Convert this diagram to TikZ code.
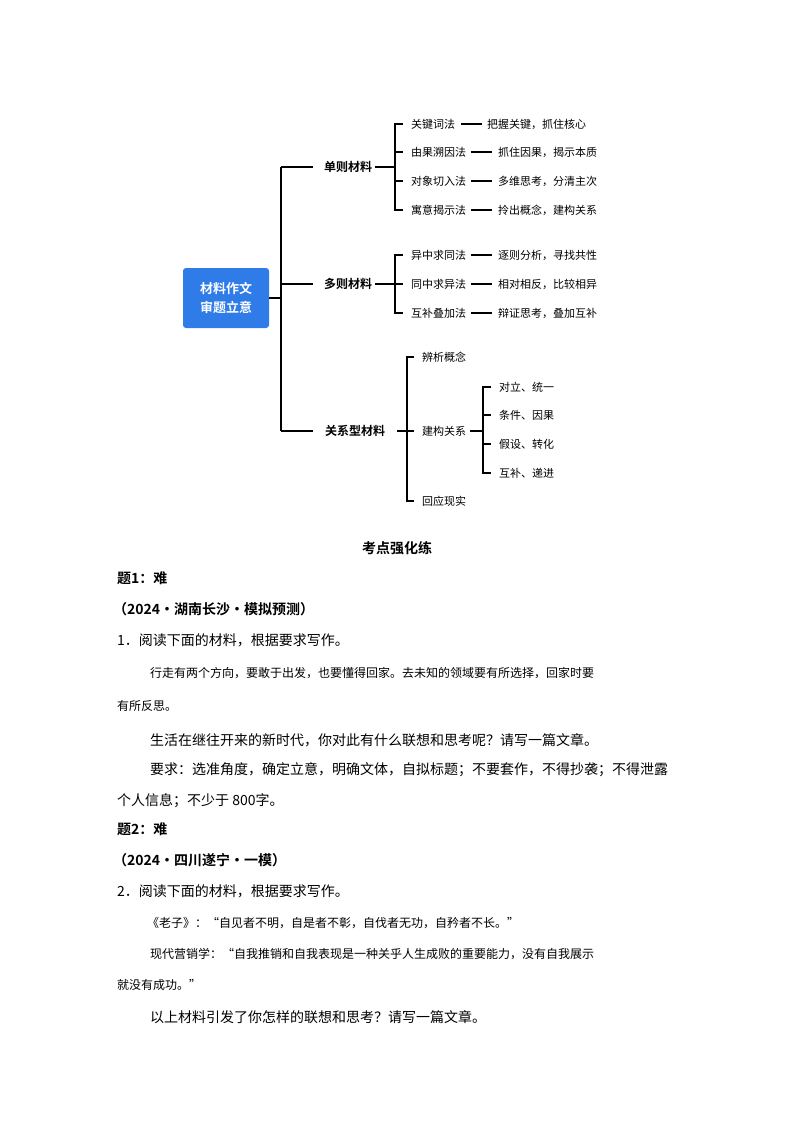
\documentclass[tikz,border=0pt]{standalone}
\usepackage{fontspec}
\setmainfont{Noto Sans CJK SC}
\newfontfamily\cjk{Noto Sans CJK SC}
\newfontfamily\cjkb{Noto Sans CJK SC Bold}
\definecolor{rootblue}{HTML}{2F7BE8}
\begin{document}
\begin{tikzpicture}[x=1pt,y=-1pt,
  ln/.style={line width=1.2pt,black},
  mm/.style={font=\fontsize{11}{12}\selectfont,anchor=west,inner sep=0pt},
  mb/.style={font=\fontsize{12}{13}\cjkb\selectfont,inner sep=0pt},
  body/.style={font=\fontsize{14}{15}\selectfont,anchor=west,inner sep=0pt},
  mat/.style={font=\fontsize{12}{13}\selectfont,anchor=west,inner sep=0pt},
  hd/.style={font=\fontsize{14}{15}\cjkb\selectfont,anchor=west,inner sep=0pt}]
\useasboundingbox (0,0) rectangle (794,1123);
\fill[white] (0,0) rectangle (794,1123);
% root
\node[fill=rootblue,rounded corners=3pt,minimum width=86pt,minimum height=60pt,text=white,align=center,font=\fontsize{13}{19}\cjkb\selectfont] (root) at (226,298) {材料作文\\审题立意};
\coordinate (v1t) at (281,167); \coordinate (v1b) at (281,431);
\draw[ln] (root.east) -- (281,298);
\draw[ln] (v1t) -- (v1b);
\node[mb] (s) at (348,167) {单则材料};
\node[mb] (m) at (348,284) {多则材料};
\node[mb] (r) at (355,431) {关系型材料};
\draw[ln] (v1t) -- (313,167);
\draw[ln] (281,284) -- (313,284);
\draw[ln] (v1b) -- (313,431);
% single
\draw[ln] (s.east)++(3,0) -- (395,167);
\draw[ln] (403,124) -- (395,124) -- (395,210) -- (403,210);
\draw[ln] (395,152) -- (403,152); \draw[ln] (395,181) -- (403,181);
\node[mm] (s1) at (411,124) {关键词法};
\node[mm] (s2) at (411,152) {由果溯因法};
\node[mm] (s3) at (411,181) {对象切入法};
\node[mm] (s4) at (411,210) {寓意揭示法};
\node[mm] (t1) at (487,124) {把握关键，抓住核心};
\node[mm] (t2) at (498,152) {抓住因果，揭示本质};
\node[mm] (t3) at (498,181) {多维思考，分清主次};
\node[mm] (t4) at (498,210) {拎出概念，建构关系};
\draw[ln] (461,124) -- (482,124);
\foreach \y in {152,181,210} \draw[ln] (471,\y) -- (492,\y);
% multi
\draw[ln] (m.east)++(3,0) -- (395,284);
\draw[ln] (403,255) -- (395,255) -- (395,313) -- (403,313);
\draw[ln] (395,284) -- (403,284);
\node[mm] (m1) at (411,255) {异中求同法};
\node[mm] (m2) at (411,284) {同中求异法};
\node[mm] (m3) at (411,313) {互补叠加法};
\node[mm] (u1) at (498,255) {逐则分析，寻找共性};
\node[mm] (u2) at (498,284) {相对相反，比较相异};
\node[mm] (u3) at (498,313) {辩证思考，叠加互补};
\foreach \y in {255,284,313} \draw[ln] (471,\y) -- (492,\y);
% relation
\draw[ln] (397,431) -- (407,431);
\draw[ln] (414,357) -- (407,357) -- (407,501) -- (414,501);
\draw[ln] (407,431) -- (414,431);
\node[mm] (r1) at (422,357) {辨析概念};
\node[mm] (r2) at (422,431) {建构关系};
\node[mm] (r3) at (422,501) {回应现实};
\draw[ln] (r2.east)++(4,0) -- (483,431);
\draw[ln] (491,387) -- (483,387) -- (483,473) -- (491,473);
\draw[ln] (483,415) -- (491,415); \draw[ln] (483,444) -- (491,444);
\node[mm] (q1) at (499,387) {对立、统一};
\node[mm] (q2) at (499,415) {条件、因果};
\node[mm] (q3) at (499,444) {假设、转化};
\node[mm] (q4) at (499,473) {互补、递进};
% text
\node[font=\fontsize{14}{15}\cjkb\selectfont,inner sep=0pt] (title) at (397,548) {考点强化练};
\node[hd] (h1) at (117,578) {题1：难};
\node[hd] (h1b) at (113,609) {（2024·湖南长沙·模拟预测）};
\node[body] (p1) at (117,640) {1．阅读下面的材料，根据要求写作。};
\node[mat] (p2) at (150,673) {行走有两个方向，要敢于出发，也要懂得回家。去未知的领域要有所选择，回家时要};
\node[mat] (p3) at (117,706) {有所反思。};
\node[body] (p4) at (150,740) {生活在继往开来的新时代，你对此有什么联想和思考呢？请写一篇文章。};
\node[body] (p5) at (150,770) {要求：选准角度，确定立意，明确文体，自拟标题；不要套作，不得抄袭；不得泄露};
\node[body] (p6) at (117,801) {个人信息；不少于 800字。};
\node[hd] (h2) at (117,829) {题2：难};
\node[hd] (h2b) at (113,860) {（2024·四川遂宁·一模）};
\node[body] (p7) at (117,891) {2．阅读下面的材料，根据要求写作。};
\node[mat] (p8) at (147,923) {《老子》：“自见者不明，自是者不彰，自伐者无功，自矜者不长。”};
\node[mat] (p9) at (150,954) {现代营销学：“自我推销和自我表现是一种关乎人生成败的重要能力，没有自我展示};
\node[mat] (p10) at (117,985) {就没有成功。”};
\node[body] (p11) at (150,1017) {以上材料引发了你怎样的联想和思考？请写一篇文章。};
\end{tikzpicture}
\end{document}
